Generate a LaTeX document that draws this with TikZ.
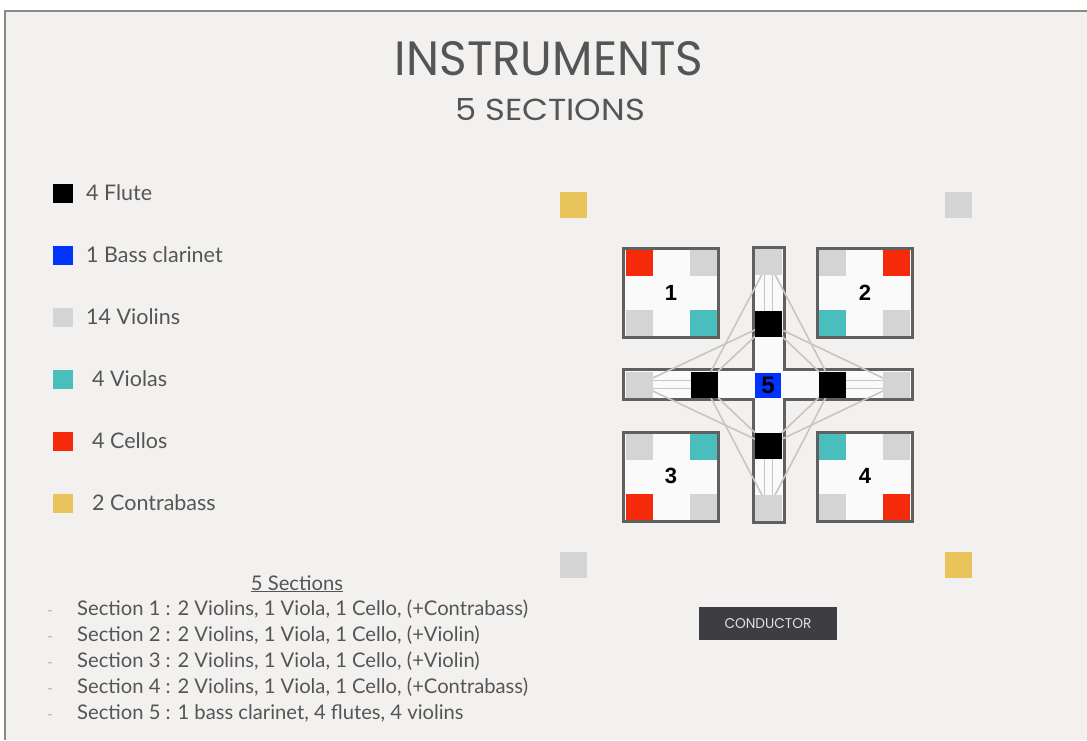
\documentclass[tikz,border=0pt]{standalone}
\usepackage{fontspec}
\setmainfont{Lato}
\newfontfamily\titlefont{Poppins}
\newfontfamily\numfont{Liberation Sans}
\definecolor{bgc}{HTML}{F2F1EF}
\definecolor{framec}{HTML}{8A8A82}
\definecolor{txt}{HTML}{555555}
\definecolor{cred}{HTML}{F42A0A}
\definecolor{cgray}{HTML}{D4D4D4}
\definecolor{cteal}{HTML}{4ABDBD}
\definecolor{cblue}{HTML}{0033FF}
\definecolor{cgold}{HTML}{E8C45A}
\definecolor{outl}{HTML}{606060}
\definecolor{boxfill}{HTML}{FAFAFA}
\definecolor{linec}{HTML}{C9C6BF}
\definecolor{condc}{HTML}{3E3E42}
\tikzset{
  sq/.style={minimum width=27pt,minimum height=26pt,inner sep=0pt,draw=none},
  lsq/.style={minimum width=20pt,minimum height=19pt,inner sep=0pt,draw=none},
  secbox/.style={draw=outl,line width=3pt,fill=boxfill,minimum width=95pt,minimum height=89pt,inner sep=0pt},
  legtxt/.style={anchor=base west,font=\fontsize{21.5}{24}\selectfont,text=txt,inner sep=0pt},
  sectxt/.style={anchor=base west,font=\fontsize{20.2}{23}\selectfont,text=txt,inner sep=0pt},
  dashtxt/.style={anchor=base,font=\fontsize{14}{16}\selectfont,text=gray!70,inner sep=0pt},
  numtxt/.style={font=\numfont\bfseries\fontsize{22}{24}\selectfont,text=black},
  glink/.style={draw=linec,line width=1.6pt}
}
\begin{document}
\begin{tikzpicture}[x=1pt,y=-1pt]
\useasboundingbox (0,0) rectangle (1087,740);
\fill[white] (0,0) rectangle (1087,740);
\fill[bgc] (5,11) rectangle (1087,740);
\draw[framec,line width=1.8pt] (5,740) -- (5,11) -- (1087,11);

% titles
\node[text=txt,inner sep=0pt] (title) at (549,59) {\resizebox{308pt}{34pt}{\titlefont INSTRUMENTS}};
\node[text=txt,inner sep=0pt] (subtitle) at (550,110) {\resizebox{190pt}{22pt}{\titlefont 5 SECTIONS}};

% legend
\node[lsq,fill=black] (l1) at (63,193.5) {};
\node[legtxt] (t1) at (86,200) {4 Flute};
\node[lsq,fill=cblue] (l2) at (63,255.5) {};
\node[legtxt] (t2) at (86,262) {1 Bass clarinet};
\node[lsq,fill=cgray] (l3) at (63,317.5) {};
\node[legtxt] (t3) at (86,324) {14 Violins};
\node[lsq,fill=cteal] (l4) at (63,379.5) {};
\node[legtxt] (t4) at (92,386) {4 Violas};
\node[lsq,fill=cred] (l5) at (63,441.5) {};
\node[legtxt] (t5) at (92,448) {4 Cellos};
\node[lsq,fill=cgold] (l6) at (63,503.5) {};
\node[legtxt] (t6) at (92,510) {2 Contrabass};

% section list
\node[sectxt,anchor=base] (sh) at (297,590) {\underline{5 Sections}};
\foreach \i/\y/\t in {1/615/{Section 1 : 2 Violins, 1 Viola, 1 Cello, (+Contrabass)},
                      2/641/{Section 2 : 2 Violins, 1 Viola, 1 Cello, (+Violin)},
                      3/667/{Section 3 : 2 Violins, 1 Viola, 1 Cello, (+Violin)},
                      4/693/{Section 4 : 2 Violins, 1 Viola, 1 Cello, (+Contrabass)},
                      5/719/{Section 5 : 1 bass clarinet, 4 flutes, 4 violins}}{
  \node[dashtxt] (d\i) at (50,\y) {-};
  \node[sectxt] (s\i) at (77,\y) {\t};
}

% corner squares
\node[sq,fill=cgold] (c1) at (573.5,204.5) {};
\node[sq,fill=cgray] (c2) at (958.5,204.5) {};
\node[sq,fill=cgray] (c3) at (573.5,564.5) {};
\node[sq,fill=cgold] (c4) at (958.5,564.5) {};

% section boxes
\node[secbox] (b1) at (670.5,292.5) {};
\node[secbox] (b2) at (864.5,292.5) {};
\node[secbox] (b3) at (670.5,477) {};
\node[secbox] (b4) at (864.5,477) {};
% box 1
\node[sq,fill=cred]  (b1a) at (639,263) {};
\node[sq,fill=cgray] (b1b) at (703,263) {};
\node[sq,fill=cgray] (b1c) at (639,323) {};
\node[sq,fill=cteal] (b1d) at (703,323) {};
% box 2
\node[sq,fill=cgray] (b2a) at (832,263) {};
\node[sq,fill=cred]  (b2b) at (896,263) {};
\node[sq,fill=cteal] (b2c) at (832,323) {};
\node[sq,fill=cgray] (b2d) at (896,323) {};
% box 3
\node[sq,fill=cgray] (b3a) at (639,447) {};
\node[sq,fill=cteal] (b3b) at (703,447) {};
\node[sq,fill=cred]  (b3c) at (639,507) {};
\node[sq,fill=cgray] (b3d) at (703,507) {};
% box 4
\node[sq,fill=cteal] (b4a) at (832,447) {};
\node[sq,fill=cgray] (b4b) at (896,447) {};
\node[sq,fill=cgray] (b4c) at (832,507) {};
\node[sq,fill=cred]  (b4d) at (896,507) {};
\node[numtxt] (n1) at (671,293) {1};
\node[numtxt] (n2) at (865,293) {2};
\node[numtxt] (n3) at (671,476) {3};
\node[numtxt] (n4) at (865,476) {4};

% cross
\draw[outl,line width=3pt,fill=boxfill,line join=miter]
  (753,247) -- (784,247) -- (784,369) -- (912,369) -- (912,399) -- (784,399)
  -- (784,522) -- (753,522) -- (753,399) -- (623,399) -- (623,369) -- (753,369) -- cycle;

% coordinates for the cross instruments
\coordinate (pvt) at (768.5,262);
\coordinate (pvb) at (768.5,507.5);
\coordinate (phl) at (639,384.5);
\coordinate (phr) at (896.5,384.5);
\coordinate (pft) at (768.5,323.5);
\coordinate (pfb) at (768.5,445.5);
\coordinate (pfl) at (704,384.5);
\coordinate (pfr) at (832.5,384.5);

% links
\foreach \a/\b in {pvt/pfl,pvt/pfr,pvb/pfl,pvb/pfr,phl/pft,phl/pfb,phr/pft,phr/pfb,pft/pfl,pft/pfr,pfb/pfl,pfb/pfr}{
  \draw[glink] (\a) -- (\b);
}
\draw[glink] ([xshift=-4pt]pvt) -- ([xshift=-4pt]pft);
\draw[glink] ([xshift=4pt]pvt) -- ([xshift=4pt]pft);
\draw[glink] ([xshift=-4pt]pvb) -- ([xshift=-4pt]pfb);
\draw[glink] ([xshift=4pt]pvb) -- ([xshift=4pt]pfb);
\draw[glink] ([yshift=-4pt]phl) -- ([yshift=-4pt]pfl);
\draw[glink] ([yshift=4pt]phl) -- ([yshift=4pt]pfl);
\draw[glink] ([yshift=-4pt]phr) -- ([yshift=-4pt]pfr);
\draw[glink] ([yshift=4pt]phr) -- ([yshift=4pt]pfr);

\node[sq,fill=cgray] (vt) at (pvt) {};
\node[sq,fill=cgray] (vb) at (pvb) {};
\node[sq,fill=cgray] (hl) at (phl) {};
\node[sq,fill=cgray] (hr) at (phr) {};
\node[sq,fill=black] (ft) at (pft) {};
\node[sq,fill=black] (fb) at (pfb) {};
\node[sq,fill=black] (fl) at (pfl) {};
\node[sq,fill=black] (fr) at (pfr) {};
\node[sq,fill=cblue,minimum width=26pt,minimum height=25pt,font=\numfont\bfseries\fontsize{24}{26}\selectfont] (bc) at (768,385) {5};

% conductor
\node[fill=condc,minimum width=138pt,minimum height=33pt,inner sep=0pt] (cond) at (768,623.5) {\resizebox{87pt}{10pt}{\color{white!88!black}\titlefont CONDUCTOR}};
\end{tikzpicture}
\end{document}
